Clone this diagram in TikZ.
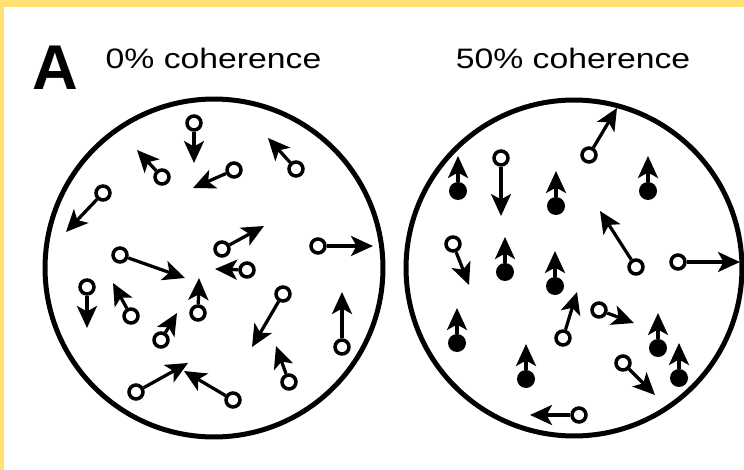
\documentclass[tikz,border=0pt]{standalone}
\usepackage{fontspec}
\setmainfont{Liberation Sans}
\usetikzlibrary{arrows.meta}
\definecolor{Frame}{HTML}{FFE070}
\definecolor{Ink}{HTML}{000000}
\tikzset{
    field/.style={draw=Ink, line width=0.1cm},
    opendot/.style={circle, draw=Ink, fill=white, line width=0.07cm, minimum size=0.28cm, inner sep=0pt},
    filldot/.style={circle, fill=Ink, minimum size=0.36cm, inner sep=0pt},
    motion/.style={-{Stealth[length=0.44cm, width=0.4cm, inset=0.11cm]}, line width=0.065cm, color=Ink},
    paneltitle/.style={anchor=base, inner sep=0pt, font=\fontsize{16}{19}\selectfont},
}

\begin{document}
\begin{tikzpicture}[x=0.02cm, y=-0.02cm]
    \useasboundingbox (0,0) rectangle (744,470);
    % Frame
    \fill[Frame] (0,0) rectangle (744,470);
    \fill[white] (4,7) rectangle (744,470);

    % Labels
    \node[anchor=base, inner sep=0pt, font=\bfseries\fontsize{36}{40}\selectfont] (panel) at (55.5,89) {A};
    \node[paneltitle] (zerotitle) at (213.5,68) {\scalebox{1.2}[1]{0\% coherence}};
    \node[paneltitle] (halftitle) at (573,68) {\scalebox{1.2}[1]{50\% coherence}};

    % Apertures
    \draw[field] (214,268) circle[radius=3.38cm];
    \draw[field] (574,268) circle[radius=3.36cm];

    % 0% coherence: every dot moves its own way
    \foreach \dx/\dy/\tx/\ty [count=\i] in {194/123/194/163, 162/177/137/150, 234/170/193/188,
        296/169/268/138, 103/193/66/232, 222/249/264/226, 318/246/373/246, 120/255/185/278,
        247/270/215/269, 87/287/87/328, 131/316/113/283, 198/313/199/278, 161/340/177/313,
        283/294/252/347, 342/347/342/292, 289/382/276/346, 136/392/188/363, 233/400/184/371}
    {
        \node[opendot] (z\i) at (\dx,\dy) {};
        \coordinate (zt\i) at (\tx,\ty);
        \draw[motion] (z\i) -- (zt\i);
    }

    % 50% coherence: open dots random
    \foreach \dx/\dy/\tx/\ty [count=\i] in {501/158/501/216, 589/155/617/108, 636/267/600/211,
        678/262/740/262, 453/244/469/285, 563/338/577/292, 599/310/634/323,
        623/363/655/395, 579/415/530/415}
    {
        \node[opendot] (h\i) at (\dx,\dy) {};
        \coordinate (ht\i) at (\tx,\ty);
        \draw[motion] (h\i) -- (ht\i);
    }

    % 50% coherence: filled dots all move up
    \foreach \dx/\dy [count=\i] in {458/191, 556/206, 648/191, 505/272, 555/286,
        457/343, 526/379, 658/348, 679/378}
    {
        \node[filldot] (c\i) at (\dx,\dy) {};
        \coordinate (ct\i) at (\dx,\dy-35);
        \draw[motion] (c\i) -- (ct\i);
    }
\end{tikzpicture}
\end{document}
